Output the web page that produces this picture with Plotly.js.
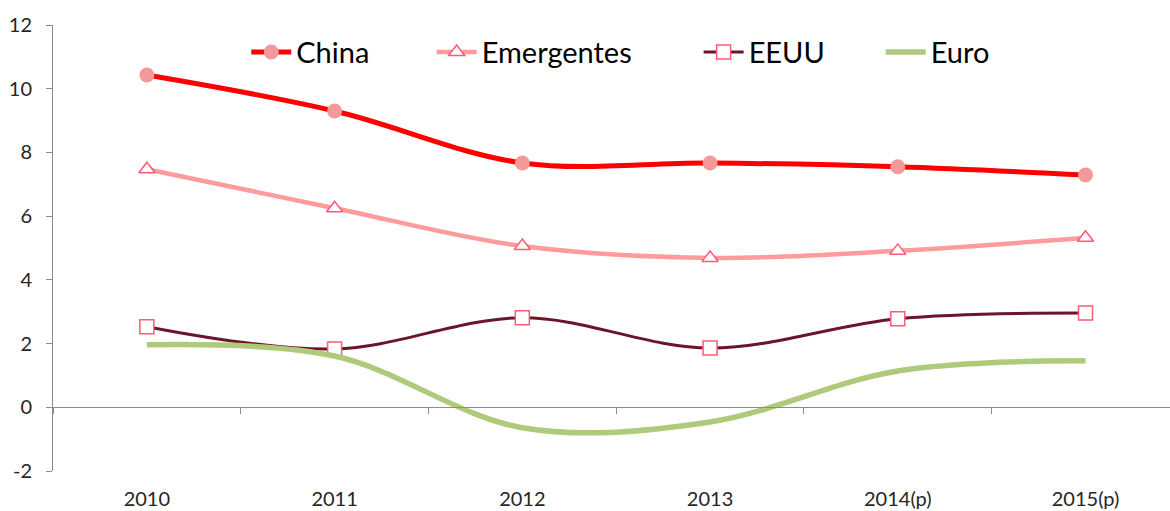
<!DOCTYPE html>
<html><head><meta charset="utf-8">
<script src="https://cdn.plot.ly/plotly-3.0.1.min.js"></script>
<style>html,body{margin:0;padding:0;background:#fff}#chart{width:1170px;height:511px}</style>
</head><body><div id="chart"></div>
<script>
const categories = ["2010","2011","2012","2013","2014(p)","2015(p)"];
const china = [10.43, 9.30, 7.67, 7.67, 7.55, 7.29];
const emergentes = [7.47, 6.25, 5.06, 4.69, 4.91, 5.32];
const eeuu = [2.53, 1.83, 2.81, 1.86, 2.78, 2.96];
const euro = [1.96, 1.61, -0.64, -0.46, 1.14, 1.46];
const yTicks = [-2, 0, 2, 4, 6, 8, 10, 12];
const yTickLabels = ["-2", "0", "2", "4", "6", "8", "10", "12"];

const font = "Lato, 'Open Sans', sans-serif";
const traces = [
  {name:"China", x:categories, y:china, mode:"lines+markers", legend:"legend",
   line:{color:"#FF0000", width:5, shape:"spline"},
   marker:{symbol:"circle", size:15, color:"#F4999A"}},
  {name:"Emergentes", x:categories, y:emergentes, mode:"lines+markers", legend:"legend2",
   line:{color:"#FF9B9B", width:4.5, shape:"spline"},
   marker:{symbol:"triangle-up", size:14, color:"#FFFFFF", line:{color:"#FF5A78", width:1.5}}},
  {name:"EEUU", x:categories, y:eeuu, mode:"lines+markers", legend:"legend3",
   line:{color:"#6A1628", width:3, shape:"spline"},
   marker:{symbol:"square", size:14, color:"#FFFFFF", line:{color:"#FF5A78", width:1.5}}},
  {name:"Euro", x:categories, y:euro, mode:"lines", legend:"legend4",
   line:{color:"#AECB7C", width:5.5, shape:"spline"}}
];
function leg(x){
  return {orientation:"h", x:x, y:0.939, xanchor:"left", yanchor:"middle",
          font:{size:29, family:font, color:"#000"}, bgcolor:"rgba(0,0,0,0)", itemwidth:40};
}
const layout = {
  width:1170, height:511,
  margin:{l:53, r:0, t:25, b:40},
  paper_bgcolor:"#fff", plot_bgcolor:"#fff",
  font:{family:font, color:"#000"},
  showlegend:true,
  legend:leg(0.173), legend2:leg(0.339), legend3:leg(0.578), legend4:leg(0.741),
  xaxis:{type:"category", range:[-0.5, 5.45], anchor:"free", position:2/14,
         showline:true, linecolor:"#8C8C8C", linewidth:1,
         ticks:"outside", tickson:"boundaries", ticklen:6, tickcolor:"#8C8C8C",
         showgrid:false, zeroline:false, ticklabelstandoff:74,
         tickfont:{size:20, family:font, color:"#262626"}},
  yaxis:{range:[-2,12], tickmode:"array", tickvals:yTicks, ticktext:yTickLabels,
         showline:true, linecolor:"#8C8C8C", linewidth:1,
         ticks:"outside", ticklen:6, tickcolor:"#8C8C8C", showgrid:false, zeroline:false,
         tickfont:{size:20, family:font, color:"#262626"}, ticklabelstandoff:10}
};
Plotly.newPlot("chart", traces, layout, {displayModeBar:false, staticPlot:true});
</script></body></html>
